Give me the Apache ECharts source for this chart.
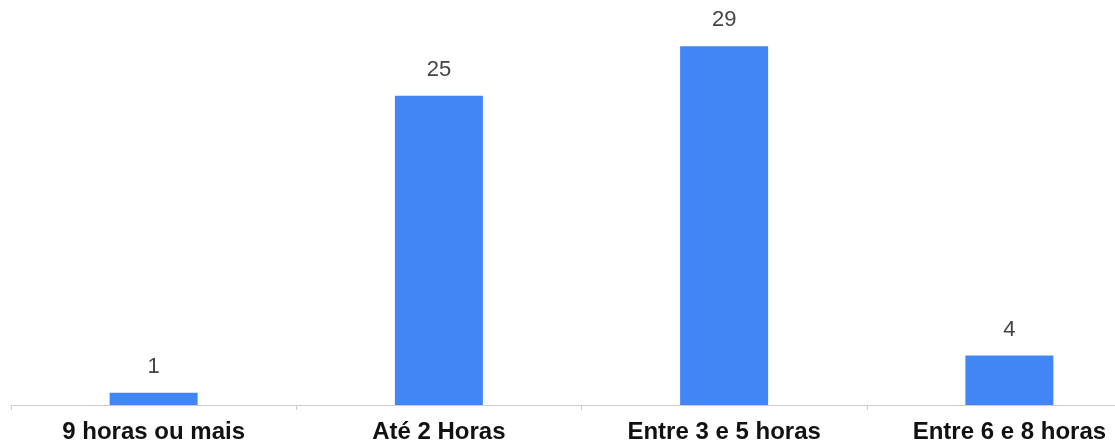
<!DOCTYPE html>
<html>
<head>
<meta charset="utf-8">
<script src="https://cdn.jsdelivr.net/npm/echarts@6/dist/echarts.min.js"></script>
<style>
  html, body { margin: 0; padding: 0; background: #fff; overflow: hidden; width: 1115px; height: 444px; }
  /* the plot runs past the right edge of the window, like a cropped panel */
  #chart { width: 1152px; height: 444px; }
</style>
</head>
<body>
<div id="chart"></div>
<script>
// Horas por dia
const categories = ['9 horas ou mais', 'Até 2 Horas', 'Entre 3 e 5 horas', 'Entre 6 e 8 horas'];
const values = [1, 25, 29, 4];

const chart = echarts.init(document.getElementById('chart'), null, { renderer: 'canvas' });
chart.setOption({
  animation: false,
  backgroundColor: '#ffffff',
  grid: { left: 11, right: 0, top: 9, bottom: 39, containLabel: false },
  xAxis: {
    type: 'category',
    data: categories,
    axisLine: { show: true, lineStyle: { color: '#cccccc', width: 1 } },
    axisTick: { show: true, length: 5, lineStyle: { color: '#cccccc' } },
    axisLabel: {
      color: '#111111',
      fontFamily: 'Liberation Sans, Arial, sans-serif',
      fontSize: 24,
      fontWeight: 'bold',
      margin: 15
    }
  },
  yAxis: {
    type: 'value',
    min: 0,
    max: 32,
    show: false,
    splitLine: { show: false }
  },
  series: [{
    type: 'bar',
    data: values,
    barWidth: 88,
    itemStyle: { color: '#4285f4' },
    label: {
      show: true,
      position: 'top',
      distance: 15,
      color: '#444444',
      fontFamily: 'Liberation Sans, Arial, sans-serif',
      fontSize: 22
    }
  }]
});
</script>
</body>
</html>
